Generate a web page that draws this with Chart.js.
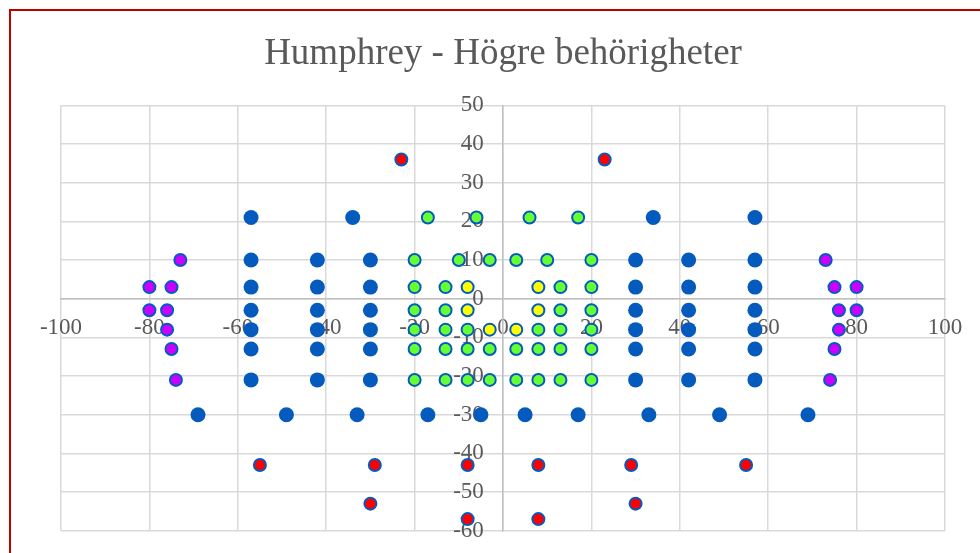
<!DOCTYPE html>
<html>
<head>
<meta charset="utf-8">
<script src="https://cdn.jsdelivr.net/npm/chart.js@4/dist/chart.umd.min.js"></script>
<style>
body{margin:0;background:#fff;overflow:hidden}
#wrap{position:relative;width:980px;height:553px;overflow:hidden}
#frame{position:absolute;left:9px;top:9px;width:1000px;height:600px;border-left:2px solid #c00000;border-top:2px solid #c00000;pointer-events:none}
canvas{position:absolute;left:0;top:0}
</style>
</head>
<body>
<div id="wrap">
<canvas id="c" width="980" height="553"></canvas>
<div id="frame"></div>
</div>
<script>
// punkter per färg, läst från bilden
const blaX=[-57,-34,34,57,
 -57,-42,-30,30,42,57,
 -57,-42,-30,30,42,57,
 -57,-42,-30,30,42,57,
 -57,-42,-30,30,42,57,
 -57,-42,-30,30,42,57,
 -57,-42,-30,30,42,57,
 -69,-49,-33,-17,-5,5,17,33,49,69];
const blaY=[21,21,21,21,
 10,10,10,10,10,10,
 3,3,3,3,3,3,
 -3,-3,-3,-3,-3,-3,
 -8,-8,-8,-8,-8,-8,
 -13,-13,-13,-13,-13,-13,
 -21,-21,-21,-21,-21,-21,
 -30,-30,-30,-30,-30,-30,-30,-30,-30,-30];

const gronX=[-17,-6,6,17,
 -20,-10,-3,3,10,20,
 -20,-13,13,20,
 -20,-13,13,20,
 -20,-13,-8,8,13,20,
 -20,-13,-8,-3,3,8,13,20,
 -20,-13,-8,-3,3,8,13,20];
const gronY=[21,21,21,21,
 10,10,10,10,10,10,
 3,3,3,3,
 -3,-3,-3,-3,
 -8,-8,-8,-8,-8,-8,
 -13,-13,-13,-13,-13,-13,-13,-13,
 -21,-21,-21,-21,-21,-21,-21,-21];

const gulX=[-8,8,-8,8,-3,3];
const gulY=[3,3,-3,-3,-8,-8];

const rodX=[-23,23,-55,-29,-8,8,29,55,-30,30,-8,8];
const rodY=[36,36,-43,-43,-43,-43,-43,-43,-53,-53,-57,-57];

const lilaX=[-73,-80,-75,-80,-76,-76,-75,-74,73,75,80,76,80,76,75,74];
const lilaY=[10,3,3,-3,-3,-8,-13,-21,10,3,3,-3,-3,-8,-13,-21];

const xTicks=[-100,-80,-60,-40,-20,0,20,40,60,80,100];
const yTicks=[-60,-50,-40,-30,-20,-10,0,10,20,30,40,50];

const punkter=(xs,ys)=>xs.map((x,i)=>({x:x,y:ys[i]}));
const kant='#055bbd';

const serie=(data,fyll,r,bw)=>({
 data:data,
 backgroundColor:fyll,
 borderColor:kant,
 borderWidth:bw,
 pointRadius:r,
 pointHoverRadius:r
});

const font={family:'"Liberation Serif", "Times New Roman", serif',size:23};

new Chart(document.getElementById('c'),{
 type:'scatter',
 data:{datasets:[
  serie(punkter(blaX,blaY),kant,7.5,0),
  serie(punkter(gronX,gronY),'#66ff33',6,2),
  serie(punkter(gulX,gulY),'#ffff00',6,2),
  serie(punkter(rodX,rodY),'#ff0000',6,2),
  serie(punkter(lilaX,lilaY),'#cc00ff',6,2)
 ]},
 options:{
  responsive:false,
  animation:false,
  layout:{padding:{left:61,right:35,top:0,bottom:0}},
  plugins:{
   legend:{display:false},
   tooltip:{enabled:false},
   title:{
    display:true,
    text:'Humphrey - Högre behörigheter',
    color:'#595959',
    font:{family:font.family,size:37,weight:'normal'},
    padding:{top:32,bottom:29}
   }
  },
  scales:{
   x:{
    type:'linear',
    position:{y:0},
    min:-100,max:100,
    afterBuildTicks:s=>{s.ticks=xTicks.map(v=>({value:v}));},
    ticks:{color:'#595959',font:font,padding:15,maxRotation:0,autoSkip:false},
    grid:{color:'#d9d9d9',lineWidth:1.5,drawTicks:false},
    border:{color:'#bfbfbf',width:1.5}
   },
   y:{
    type:'linear',
    position:{x:0},
    min:-60,max:50,
    afterBuildTicks:s=>{s.ticks=yTicks.map(v=>({value:v}));},
    // padding styr här bara avståndet under diagramytan
    ticks:{color:'#595959',font:font,padding:8.5,autoSkip:false,callback:v=>v+'\u2002 \u200A'},
    grid:{color:'#d9d9d9',lineWidth:1.5,drawTicks:false},
    border:{color:'#bfbfbf',width:1.5}
   }
  }
 }
});
</script>
</body>
</html>
